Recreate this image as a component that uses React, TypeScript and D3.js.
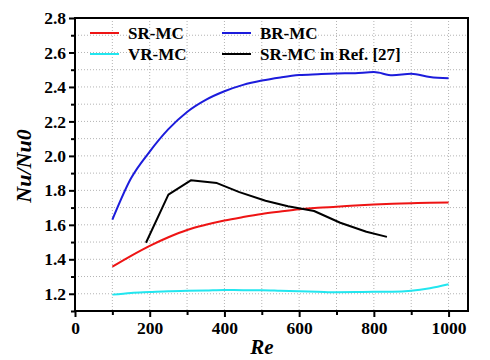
import React, { useEffect, useRef } from 'react'
import * as d3 from 'd3'

// Re values sampled along the simulated curves
const reSim = [100, 150, 200, 250, 300, 350, 400, 450, 500, 550, 600, 650, 700, 750, 800, 850, 900, 950, 1000]
const srMC = [1.357, 1.42, 1.478, 1.528, 1.57, 1.6, 1.625, 1.645, 1.663, 1.677, 1.69, 1.699, 1.705, 1.712, 1.718, 1.722, 1.725, 1.728, 1.73]
const brMC = [1.63, 1.87, 2.025, 2.155, 2.255, 2.325, 2.375, 2.412, 2.437, 2.455, 2.469, 2.474, 2.478, 2.48, 2.486, 2.468, 2.477, 2.458, 2.45]
const vrMC = [1.195, 1.205, 1.21, 1.215, 1.217, 1.219, 1.222, 1.221, 1.221, 1.218, 1.215, 1.212, 1.209, 1.21, 1.212, 1.212, 1.217, 1.232, 1.255]

// reference data, Ref. [27]
const reRef = [190, 250, 310, 380, 440, 510, 570, 640, 710, 780, 835]
const srRef = [1.496, 1.775, 1.858, 1.842, 1.79, 1.74, 1.708, 1.68, 1.612, 1.56, 1.53]

const xTicks = [0, 200, 400, 600, 800, 1000]
const yTicks = [1.2, 1.4, 1.6, 1.8, 2.0, 2.2, 2.4, 2.6, 2.8]

const seriesNames = ['SR-MC', 'BR-MC', 'VR-MC', 'SR-MC in Ref. [27]']

export default function App() {
  const ref = useRef<SVGSVGElement>(null)

  useEffect(() => {
    const svg = d3.select(ref.current)
    svg.selectAll('*').remove()

    const width = 490, height = 360
    const left = 75, right = 468, top = 18, bottom = 311
    const font = "'Liberation Serif', 'Times New Roman', serif"

    const x = d3.scaleLinear().domain([0, 1052]).range([left, right])
    const y = d3.scaleLinear().domain([1.1, 2.8]).range([bottom, top])

    svg.attr('width', width).attr('height', height)
    svg.append('rect').attr('width', width).attr('height', height).attr('fill', '#fff')

    // dotted grid
    const grid = svg.append('g').attr('stroke', '#b4b4b4').attr('stroke-dasharray', '1,2').attr('stroke-width', 1)
    d3.range(100, 1001, 100).forEach(v => {
      grid.append('line').attr('x1', x(v)).attr('x2', x(v)).attr('y1', top).attr('y2', bottom)
    })
    d3.range(12, 28).forEach(i => {
      const v = i / 10
      grid.append('line').attr('x1', left).attr('x2', right).attr('y1', y(v)).attr('y2', y(v))
    })

    // curves
    const smooth = d3.line<number>().x((d, i) => x(reSim[i])).y(d => y(d)).curve(d3.curveMonotoneX)
    const straight = d3.line<number>().x((d, i) => x(reRef[i])).y(d => y(d))

    const addPath = (d: string | null, color: string) =>
      svg.append('path').attr('d', d).attr('fill', 'none').attr('stroke', color)
        .attr('stroke-width', 2).attr('stroke-linejoin', 'round')

    addPath(smooth(vrMC), '#22e6ef')
    addPath(smooth(srMC), '#ee1414')
    addPath(smooth(brMC), '#1c1cdc')
    addPath(straight(srRef), '#000')

    // frame
    svg.append('rect').attr('x', left).attr('y', top).attr('width', right - left).attr('height', bottom - top)
      .attr('fill', 'none').attr('stroke', '#000').attr('stroke-width', 2)

    // axes
    const xAxis = svg.append('g').attr('transform', `translate(0,${bottom})`)
      .call(d3.axisBottom(x).tickValues(xTicks).tickSize(6).tickPadding(4).tickFormat(d3.format('d')))
    const xMinor = svg.append('g').attr('transform', `translate(0,${bottom})`)
      .call(d3.axisBottom(x).tickValues([100, 300, 500, 700, 900]).tickSize(4).tickFormat(() => ''))

    const yAxis = svg.append('g').attr('transform', `translate(${left},0)`)
      .call(d3.axisLeft(y).tickValues(yTicks).tickSize(6).tickPadding(3).tickFormat(d3.format('.1f')))
    const yMinor = svg.append('g').attr('transform', `translate(${left},0)`)
      .call(d3.axisLeft(y).tickValues(d3.range(11, 28, 2).map(i => i / 10)).tickSize(4).tickFormat(() => ''))

    ;[xAxis, xMinor, yAxis, yMinor].forEach(g => {
      g.select('.domain').remove()
      g.selectAll('line').attr('stroke', '#000').attr('stroke-width', 2)
      g.selectAll('text').style('font-family', font).style('font-weight', 'bold')
        .style('font-size', '17.5px').attr('fill', '#000')
    })
    xAxis.selectAll('text').attr('dy', '0.75em')

    // axis titles
    svg.append('text').attr('x', 262).attr('y', 354).attr('text-anchor', 'middle')
      .style('font-family', font).style('font-weight', 'bold').style('font-style', 'italic')
      .style('font-size', '21px').text('Re')
    svg.append('text').attr('transform', 'translate(31,166) rotate(-90)').attr('text-anchor', 'middle')
      .style('font-family', font).style('font-weight', 'bold').style('font-style', 'italic')
      .style('font-size', '22px').text('Nu/Nu0')

    // legend
    const colors = ['#ee1414', '#1c1cdc', '#22e6ef', '#000']
    const legendPos = [[90, 33], [222, 33], [90, 54], [222, 54]]
    seriesNames.forEach((name, i) => {
      const [lx, ly] = legendPos[i]
      svg.append('line').attr('x1', lx).attr('x2', lx + 29).attr('y1', ly).attr('y2', ly)
        .attr('stroke', colors[i]).attr('stroke-width', 2)
      svg.append('text').attr('x', lx + 38).attr('y', ly + 6)
        .style('font-family', font).style('font-weight', 'bold').style('font-size', '17px').text(name)
    })
  }, [])

  return <svg ref={ref} style={{ position: 'absolute', left: 0, top: 0 }}></svg>
}
